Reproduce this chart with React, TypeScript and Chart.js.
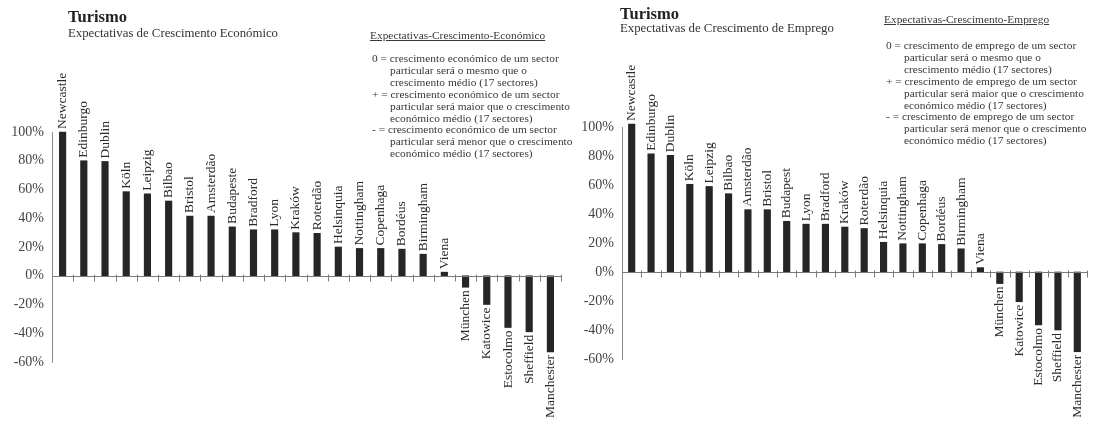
import React, { useEffect, useRef } from "react";
import { Chart, registerables } from "chart.js";

Chart.register(...registerables);

const FONT = "'Liberation Serif', 'Times New Roman', serif";

const econCities = [
  "Newcastle", "Edinburgo", "Dublin", "Köln", "Leipzig", "Bilbao", "Bristol", "Amsterdão",
  "Budapeste", "Bradford", "Lyon", "Kraków", "Roterdão", "Helsinquia", "Nottingham",
  "Copenhaga", "Bordéus", "Birmingham", "Viena", "München", "Katowice", "Estocolmo",
  "Sheffield", "Manchester",
];
const econValues = [
  100, 80, 79.5, 58.5, 57, 52, 41.5, 41.5, 34, 32, 32, 30, 29.5, 20, 19, 19, 18.5, 15, 2.5,
  -8, -20, -36, -39, -53,
];

const empCities = [
  "Newcastle", "Edinburgo", "Dublin", "Köln", "Leipzig", "Bilbao", "Amsterdão", "Bristol",
  "Budapest", "Lyon", "Bradford", "Kraków", "Roterdão", "Helsinquia", "Nottingham",
  "Copenhaga", "Bordéus", "Birmingham", "Viena", "München", "Katowice", "Estocolmo",
  "Sheffield", "Manchester",
];
const empValues = [
  102, 81.5, 80.5, 60.5, 59, 54, 43, 43, 35, 33, 33, 31, 30, 20.5, 19.5, 19.5, 19, 16, 3,
  -8, -20.5, -36.5, -40, -55,
];

const yTicksMin = -60;
const yTicksMax = 100;
const yTickStep = 20;

const econNoteHeading = "Expectativas-Crescimento-Económico";
const econNoteLines = [
  "0 = crescimento económico de um sector",
  "particular será o mesmo que o",
  "crescimento médio (17 sectores)",
  "+ = crescimento económico de um sector",
  "particular será maior que o crescimento",
  "económico médio (17 sectores)",
  "- = crescimento económico de um sector",
  "particular será menor que o crescimento",
  "económico médio (17 sectores)",
];
const empNoteHeading = "Expectativas-Crescimento-Emprego";
const empNoteLines = [
  "0 = crescimento de emprego de um sector",
  "particular será o mesmo que o",
  "crescimento médio (17 sectores)",
  "+ = crescimento de emprego de um sector",
  "particular será maior que o crescimento",
  "económico médio (17 sectores)",
  "- = crescimento de emprego de um sector",
  "particular será menor que o crescimento",
  "económico médio (17 sectores)",
];

const zeroLinePlugin = {
  id: "zeroLine",
  afterDatasetsDraw(chart: any) {
    const { ctx, chartArea, scales } = chart;
    const x = scales.x;
    const y = scales.y;
    const y0 = Math.round(y.getPixelForValue(0)) + 0.5;
    const n = chart.data.labels.length;
    const band = (chartArea.right - chartArea.left) / n;
    ctx.save();
    ctx.strokeStyle = "#7a7a7a";
    ctx.lineWidth = 1;
    ctx.beginPath();
    ctx.moveTo(chartArea.left, y0);
    ctx.lineTo(chartArea.right, y0);
    for (let i = 1; i <= n; i++) {
      const bx = Math.round(x.getPixelForValue(i - 1) + band / 2) + 0.5;
      ctx.moveTo(bx, y0 - 2);
      ctx.lineTo(bx, y0 + 5);
    }
    ctx.stroke();
    ctx.restore();
  },
};

const cityLabelPlugin = {
  id: "cityLabels",
  afterDatasetsDraw(chart: any) {
    const { ctx } = chart;
    const meta = chart.getDatasetMeta(0);
    const vals = chart.data.datasets[0].data;
    const labels = chart.data.labels;
    ctx.save();
    ctx.font = `13.5px ${FONT}`;
    ctx.fillStyle = "#2a2a2a";
    ctx.textBaseline = "middle";
    meta.data.forEach((bar: any, i: number) => {
      const v = vals[i];
      ctx.save();
      if (v >= 0) {
        ctx.translate(bar.x, bar.y - 3);
        ctx.rotate(-Math.PI / 2);
        ctx.textAlign = "left";
      } else {
        ctx.translate(bar.x, bar.y + 3);
        ctx.rotate(-Math.PI / 2);
        ctx.textAlign = "right";
      }
      ctx.fillText(labels[i], 0, 0);
      ctx.restore();
    });
    ctx.restore();
  },
};

type PanelProps = {
  left: number;
  width: number;
  axisX: number;
  top: number;
  bottom: number;
  padRight: number;
  labels: string[];
  values: number[];
};

function BarPanel(p: PanelProps) {
  const ref = useRef<HTMLCanvasElement | null>(null);
  useEffect(() => {
    if (!ref.current) return;
    const chart = new Chart(ref.current, {
      type: "bar",
      data: {
        labels: p.labels,
        datasets: [
          {
            data: p.values,
            backgroundColor: "#262626",
            barThickness: 6.5,
            clip: false as any,
          },
        ],
      },
      options: {
        animation: false,
        responsive: false,
        maintainAspectRatio: false,
        devicePixelRatio: 1,
        layout: { padding: { top: p.top, bottom: 421 - p.bottom, left: 0, right: p.padRight } },
        plugins: { legend: { display: false }, tooltip: { enabled: false }, title: { display: false } },
        scales: {
          x: { display: false, offset: true },
          y: {
            min: yTicksMin,
            max: yTicksMax,
            ticks: {
              stepSize: yTickStep,
              callback: (v: any) => `${v}%`,
              font: { family: FONT, size: 14 },
              color: "#444",
              padding: 8,
            },
            grid: { display: false, drawTicks: false },
            border: { display: true, color: "#8a8a8a", width: 1 },
            afterFit: (s: any) => {
              s.width = p.axisX;
            },
          },
        },
      } as any,
      plugins: [zeroLinePlugin, cityLabelPlugin],
    });
    return () => chart.destroy();
  }, []);
  return (
    <canvas
      ref={ref}
      width={p.width}
      height={421}
      style={{ position: "absolute", left: p.left, top: 0, width: p.width, height: 421 }}
    />
  );
}

type NoteProps = { x: number; headingY: number; heading: string; lines: string[]; y0: number; step: number };

function Note(n: NoteProps) {
  const fs = 11.4;
  const lh = 12;
  const base: React.CSSProperties = {
    position: "absolute",
    fontFamily: FONT,
    fontSize: fs,
    lineHeight: `${lh}px`,
    color: "#383838",
    whiteSpace: "nowrap",
  };
  return (
    <>
      <div style={{ ...base, left: n.x, top: n.headingY - lh / 2, textDecoration: "underline" }}>{n.heading}</div>
      {n.lines.map((t, i) => {
        const indent = i % 3 === 0 ? 0 : 18;
        return (
          <div key={i} style={{ ...base, left: n.x + 2 + indent, top: n.y0 + i * n.step - lh / 2 }}>
            {t}
          </div>
        );
      })}
    </>
  );
}

function Title(t: { x: number; y1: number; y2: number; sub: string }) {
  return (
    <>
      <div
        style={{
          position: "absolute",
          left: t.x,
          top: t.y1 - 9,
          fontFamily: FONT,
          fontWeight: "bold",
          fontSize: 16.5,
          lineHeight: "18px",
          color: "#222",
          whiteSpace: "nowrap",
        }}
      >
        Turismo
      </div>
      <div
        style={{
          position: "absolute",
          left: t.x,
          top: t.y2 - 8,
          fontFamily: FONT,
          fontSize: 12.8,
          lineHeight: "16px",
          color: "#333",
          whiteSpace: "nowrap",
        }}
      >
        {t.sub}
      </div>
    </>
  );
}

export default function App() {
  useEffect(() => {
    document.body.style.margin = "0";
    document.body.style.background = "#fff";
  }, []);
  return (
    <div style={{ position: "relative", width: 1094, height: 421, overflow: "hidden", background: "#fff" }}>
      <BarPanel left={0} width={566} axisX={52} top={132} bottom={362} padRight={5} labels={econCities} values={econValues} />
      <BarPanel left={566} width={528} axisX={56} top={127} bottom={359} padRight={7} labels={empCities} values={empValues} />
      <Title x={68} y1={17} y2={33} sub="Expectativas de Crescimento Económico" />
      <Title x={620} y1={14} y2={28} sub="Expectativas de Crescimento de Emprego" />
      <Note x={370} headingY={35} heading={econNoteHeading} lines={econNoteLines} y0={58} step={11.9} />
      <Note x={884} headingY={19} heading={empNoteHeading} lines={empNoteLines} y0={45} step={11.9} />
    </div>
  );
}
